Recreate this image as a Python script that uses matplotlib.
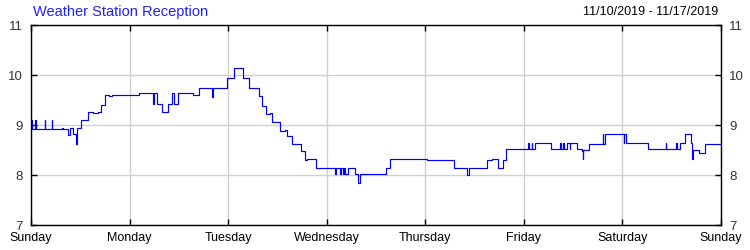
import matplotlib
matplotlib.use("Agg")
import matplotlib.pyplot as plt

# Data: time in days since Sunday 11/10/2019 00:00, signal value (steps-post)
times = [0.000, 0.005, 0.012, 0.045, 0.052, 0.140, 0.147, 0.208, 0.215, 0.318,
         0.325, 0.378, 0.395, 0.430, 0.456, 0.470, 0.505, 0.575, 0.632, 0.683,
         0.710, 0.755, 0.790, 0.825, 1.092, 1.238, 1.245, 1.275, 1.332, 1.393,
         1.430, 1.452, 1.487, 1.646, 1.707, 1.840, 1.847, 1.984, 2.059, 2.153,
         2.214, 2.316, 2.340, 2.380, 2.424, 2.440, 2.525, 2.576, 2.593, 2.644,
         2.652, 2.735, 2.779, 2.803, 2.887, 3.083, 3.090, 3.134, 3.141, 3.168,
         3.175, 3.185, 3.218, 3.286, 3.320, 3.337, 3.597, 3.641, 4.013, 4.290,
         4.419, 4.446, 4.629, 4.672, 4.740, 4.790, 4.815, 5.044, 5.050, 5.078,
         5.085, 5.108, 5.280, 5.365, 5.372, 5.399, 5.406, 5.433, 5.466, 5.472,
         5.541, 5.585, 5.595, 5.600, 5.662, 5.798, 5.805, 5.821, 6.014, 6.020,
         6.040, 6.159, 6.261, 6.437, 6.444, 6.548, 6.555, 6.582, 6.639, 6.693,
         6.710, 6.717, 6.777, 6.835, 7.000]
values = [8.92, 9.10, 8.92, 9.10, 8.92, 9.10, 8.92, 9.10, 8.92, 8.94,
          8.92, 8.81, 8.94, 8.83, 8.62, 8.94, 9.10, 9.27, 9.25, 9.27,
          9.41, 9.61, 9.59, 9.61, 9.63, 9.43, 9.63, 9.43, 9.26, 9.43,
          9.63, 9.43, 9.63, 9.61, 9.74, 9.57, 9.74, 9.94, 10.14, 9.94,
          9.74, 9.58, 9.38, 9.22, 9.25, 9.07, 8.89, 8.91, 8.78, 8.62,
          8.62, 8.49, 8.31, 8.33, 8.13, 8.03, 8.13, 8.03, 8.13, 8.03,
          8.13, 8.02, 8.13, 8.02, 7.85, 8.02, 8.13, 8.33, 8.31, 8.13,
          8.01, 8.13, 8.31, 8.33, 8.13, 8.30, 8.53, 8.65, 8.53, 8.65,
          8.53, 8.65, 8.53, 8.65, 8.53, 8.65, 8.53, 8.65, 8.53, 8.65,
          8.53, 8.48, 8.33, 8.50, 8.62, 8.82, 8.62, 8.82, 8.65, 8.82,
          8.63, 8.65, 8.53, 8.65, 8.53, 8.65, 8.53, 8.65, 8.82, 8.65,
          8.33, 8.50, 8.45, 8.62, 8.62]

day_labels = ["Sunday", "Monday", "Tuesday", "Wednesday", "Thursday",
              "Friday", "Saturday", "Sunday"]
y_ticks = [7, 8, 9, 10, 11]
title = "Weather Station Reception"
date_range = "11/10/2019 - 11/17/2019"

plt.rcParams['font.family'] = ['Liberation Sans', 'DejaVu Sans']

fig = plt.figure(figsize=(7.5, 2.5), dpi=100)
ax = fig.add_axes([31 / 750, 25 / 250, 690 / 750, 200 / 250])

ax.plot(times, values, drawstyle='steps-post', color='#0000ff', lw=0.85)

ax.set_xlim(0, 7)
ax.set_ylim(7, 11)
ax.set_xticks(range(len(day_labels)))
ax.set_xticklabels(day_labels)
ax.set_yticks(y_ticks)

ax.grid(True, color='#d0d0d0', lw=1)
ax.set_axisbelow(True)
for s in ax.spines.values():
    s.set_color('black')
    s.set_linewidth(1)

ax.tick_params(axis='both', direction='in', length=4, width=1, colors='black',
               labelsize=9, top=True, right=True, labelright=True)
ax.tick_params(axis='x', pad=5)
ax.tick_params(axis='y', which='both', pad=6, labelsize=9.5)
for lab in ax.get_yticklabels():
    lab.set_color('#333333')

fig.text(33 / 750, 1 - 12 / 250, title, color='#2020ff', fontsize=10.5,
         ha='left', va='center')
fig.text(718 / 750, 1 - 12 / 250, date_range, color='black', fontsize=9,
         ha='right', va='center')

fig.savefig("out.png", dpi=100)
